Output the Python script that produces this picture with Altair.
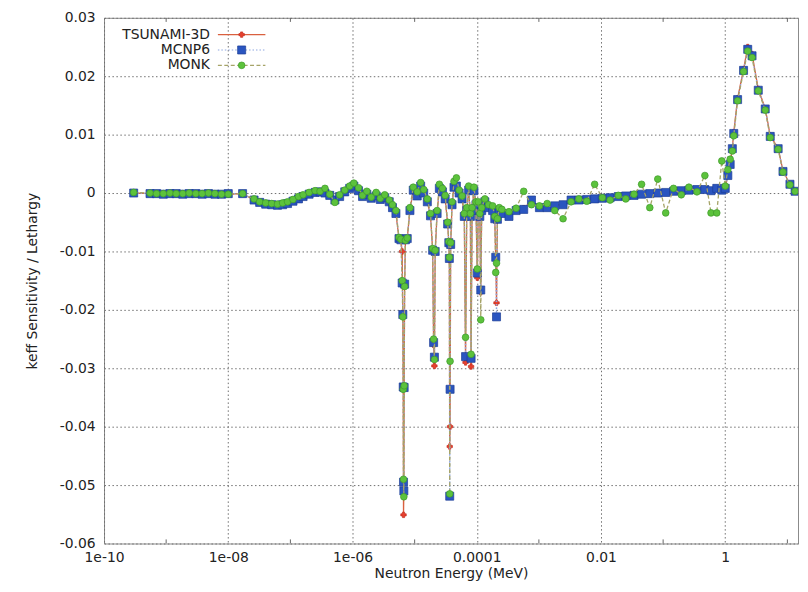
import altair as alt
import pandas as pd

SERIES = ["TSUNAMI-3D", "MCNP6", "MONK"]
MARK_COLORS = ["#e8402e", "#2a55c0", "#5cc23c"]
MARK_STROKES = ["#c42a1c", "#1d3f95", "#3f9a2a"]
LINE_COLORS = ["#d9603f", "#8ea6df", "#a6a468"]

# Neutron energy (MeV) of each group point
ENERGY = [
    3e-10, 5.5e-10, 7e-10, 9e-10, 1.15e-9, 1.45e-9, 1.85e-9, 2.35e-9, 3e-9, 3.8e-9, 4.8e-9, 6.1e-9, 7.8e-9, 1.0e-8,
    1.7e-8, 2.6e-8, 3.2e-8, 4e-8, 5e-8, 6.2e-8, 7.5e-8, 9e-8, 1.1e-7, 1.35e-7, 1.6e-7, 2e-7, 2.5e-7, 3e-7, 3.6e-7,
    4.3e-7, 5.2e-7, 6.2e-7, 7.5e-7, 9e-7, 1.05e-6, 1.25e-6, 1.45e-6, 1.7e-6, 2e-6, 2.4e-6, 2.8e-6, 3.3e-6, 3.9e-6,
    4.4e-6, 5e-6,
    5.6e-6, 6.0e-6, 6.3e-6, 6.45e-6, 6.55e-6, 6.62e-6, 6.7e-6, 6.78e-6, 6.9e-6, 7.1e-6, 7.6e-6, 8.4e-6,
    9.5e-6, 1.1e-5, 1.25e-5, 1.4e-5, 1.6e-5, 1.8e-5,
    1.95e-5, 2.02e-5, 2.08e-5, 2.14e-5, 2.3e-5,
    2.5e-5, 2.8e-5, 3.1e-5, 3.4e-5,
    3.55e-5, 3.62e-5, 3.67e-5, 3.72e-5, 3.8e-5, 4.0e-5,
    4.3e-5, 4.7e-5, 5.2e-5, 5.8e-5, 6.3e-5,
    6.6e-5, 6.9e-5, 7.4e-5, 7.9e-5, 8.1e-5, 8.4e-5, 9.0e-5, 9.7e-5,
    1.02e-4, 1.06e-4, 1.12e-4, 1.16e-4, 1.2e-4,
    1.35e-4, 1.55e-4, 1.8e-4, 1.95e-4,
    2.02e-4, 2.08e-4, 2.15e-4, 2.3e-4,
    2.54e-4, 3.3e-4, 4.3e-4, 5.7e-4, 7.6e-4, 1.02e-3, 1.36e-3, 1.8e-3, 2.45e-3, 3.3e-3, 4.4e-3, 5.9e-3, 7.9e-3,
    1.05e-2, 1.4e-2, 1.9e-2, 2.5e-2, 3.4e-2, 4.5e-2, 6.1e-2, 8.2e-2, 0.11, 0.147, 0.196, 0.26, 0.35, 0.47, 0.59,
    0.73, 0.88,
    1.0, 1.1, 1.2, 1.3, 1.37, 1.58, 1.97, 2.3, 2.7, 3.4, 4.4, 5.3, 7.1, 8.5, 11.0, 13.3,
]

TSUNAMI = [
    0.0, -0.0001, -0.0001, -0.0001, -0.0001, -0.0001, -0.0001, -0.0001, -0.0001, -0.0001, -0.0001, -0.0002, -0.0002, -0.0002,
    -0.0001, -0.0012, -0.0016, -0.0019, -0.0020, -0.0021, -0.0020, -0.0018, -0.0014, -0.0010, -0.0006, -0.0002, 0.0001, 0.0002, 0.0000,
    -0.0004, -0.0012, -0.0006, 0.0002, 0.0008, 0.0012, 0.0004, -0.0006, -0.0002, -0.0009, -0.0005, -0.0011, -0.0008, -0.0015,
    -0.0025, -0.0035,
    -0.0078, -0.0080, -0.0100, -0.0205, -0.0335, -0.0551, -0.0510, -0.0330, -0.0158, -0.0082, -0.0078, -0.0030,
    0.0005, -0.0005, 0.0012, 0.0000, -0.0015, -0.0039,
    -0.0098, -0.0260, -0.0296, -0.0102, -0.0035,
    0.0008, 0.0002, -0.0010, -0.0053,
    -0.0086, -0.0115, -0.0434, -0.0400, -0.0090, -0.0020,
    0.0010, 0.0012, 0.0000, -0.0010, -0.0040,
    -0.0290, -0.0030, 0.0005, -0.0040, -0.0297, -0.0030, 0.0004, -0.0020,
    -0.0145, -0.0020, -0.0040, -0.0170, -0.0030,
    -0.0015, -0.0025, -0.0030, -0.0044,
    -0.0112, -0.0188, -0.0045, -0.0030,
    -0.0033, -0.0038, -0.0029, -0.0026, -0.0014, -0.0024, -0.0024, -0.0021, -0.0019, -0.0012, -0.0012, -0.0011, -0.0010,
    -0.0009, -0.0008, -0.0006, -0.0005, -0.0004, -0.0002, -0.0001, 0.0000, 0.0001, 0.0003, 0.0004, 0.0005, 0.0006, 0.0006, 0.0004,
    0.0008, 0.0006,
    0.0008, 0.0031, 0.0050, 0.0077, 0.0104, 0.0162, 0.0212, 0.0250, 0.0238, 0.0178, 0.0145, 0.0098, 0.0077, 0.0038, 0.0015, 0.0003,
]

MCNP6 = [
    0.0, -0.0001, -0.0001, -0.0002, -0.0001, -0.0001, -0.0002, -0.0001, -0.0001, -0.0002, -0.0001, -0.0002, -0.0002, -0.0001,
    -0.0001, -0.0012, -0.0016, -0.0019, -0.0020, -0.0021, -0.0020, -0.0018, -0.0014, -0.0010, -0.0006, -0.0002, 0.0001, 0.0002, 0.0000,
    -0.0004, -0.0012, -0.0006, 0.0002, 0.0008, 0.0012, 0.0004, -0.0006, -0.0002, -0.0009, -0.0005, -0.0011, -0.0008, -0.0015,
    -0.0025, -0.0035,
    -0.0078, -0.0080, -0.0154, -0.0208, -0.0332, -0.0495, -0.0510, -0.0333, -0.0156, -0.0080, -0.0078, -0.0030,
    0.0005, -0.0005, 0.0012, 0.0000, -0.0015, -0.0039,
    -0.0098, -0.0256, -0.0281, -0.0100, -0.0035,
    0.0008, 0.0002, -0.0010, -0.0053,
    -0.0085, -0.0112, -0.0519, -0.0336, -0.0088, -0.0020,
    0.0010, 0.0012, 0.0000, -0.0010, -0.0040,
    -0.0280, -0.0030, 0.0005, -0.0040, -0.0283, -0.0030, 0.0004, -0.0020,
    -0.0137, -0.0020, -0.0040, -0.0166, -0.0030,
    -0.0015, -0.0025, -0.0030, -0.0044,
    -0.0110, -0.0212, -0.0045, -0.0030,
    -0.0035, -0.0040, -0.0030, -0.0028, -0.0012, -0.0025, -0.0025, -0.0022, -0.0020, -0.0012, -0.0012, -0.0011, -0.0010,
    -0.0009, -0.0008, -0.0006, -0.0005, -0.0004, -0.0002, -0.0001, 0.0000, 0.0001, 0.0003, 0.0004, 0.0005, 0.0006, 0.0006, 0.0004,
    0.0008, 0.0005,
    0.0008, 0.0030, 0.0049, 0.0076, 0.0102, 0.0160, 0.0210, 0.0246, 0.0235, 0.0176, 0.0144, 0.0097, 0.0076, 0.0037, 0.0015, 0.0003,
]

MONK = [
    0.0001, 0.0, -0.0001, -0.0001, 0.0, -0.0001, -0.0001, 0.0, -0.0001, -0.0001, 0.0, -0.0001, -0.0002, -0.0002,
    -0.0001, -0.0010, -0.0015, -0.0017, -0.0018, -0.0019, -0.0017, -0.0015, -0.0011, -0.0006, -0.0003, 0.0001, 0.0004, 0.0003, 0.0008,
    -0.0002, -0.0016, -0.0003, 0.0005, 0.0012, 0.0017, 0.0009, -0.0004, 0.0003, -0.0007, 0.0001, -0.0009, -0.0003, -0.0012,
    -0.0020, -0.0030,
    -0.0076, -0.0079, -0.0150, -0.0212, -0.0336, -0.0490, -0.0520, -0.0330, -0.0160, -0.0081, -0.0077, -0.0025,
    0.0010, 0.0002, 0.0018, 0.0006, -0.0010, -0.0035,
    -0.0095, -0.0250, -0.0285, -0.0098, -0.0030,
    0.0015, 0.0008, -0.0004, -0.0050,
    -0.0083, -0.0110, -0.0515, -0.0288, -0.0085, -0.0015,
    0.0020, 0.0026, 0.0005, -0.0005, -0.0035,
    -0.0247, -0.0025, 0.0012, -0.0035, -0.0276, -0.0025, 0.0010, -0.0015,
    -0.0130, -0.0015, -0.0035, -0.0217, -0.0025,
    -0.0010, -0.0020, -0.0022, -0.0040,
    -0.0136, -0.0120, -0.0044, -0.0025,
    -0.0028, -0.0032, -0.0026, 0.0003, -0.0020, -0.0022, -0.0018, -0.0030, -0.0044, -0.0015, -0.0010, -0.0014, 0.0015,
    -0.0008, -0.0012, -0.0004, -0.0010, -0.0002, 0.0015, -0.0025, 0.0024, -0.0034, 0.0008, -0.0003, 0.0010, 0.0002, 0.0030, -0.0034,
    -0.0034, 0.0055,
    0.0012, 0.0040, 0.0058, 0.0072, 0.0098, 0.0158, 0.0208, 0.0243, 0.0232, 0.0175, 0.0142, 0.0095, 0.0075, 0.0036, 0.0014, 0.0003,
]

assert len(ENERGY) == len(TSUNAMI) == len(MCNP6) == len(MONK), (len(ENERGY), len(TSUNAMI), len(MCNP6), len(MONK))

XTICKS = [1e-10, 1e-8, 1e-6, 1e-4, 1e-2, 1]
XTICK_LABELS = ["1e-10", "1e-08", "1e-06", "0.0001", "0.01", "1"]
MINOR_X = [1e-9, 1e-7, 1e-5, 1e-3, 1e-1, 10]
YTICKS = [-0.06, -0.05, -0.04, -0.03, -0.02, -0.01, 0, 0.01, 0.02, 0.03]

PLOT_W = 701
PLOT_H = 531
XMAX = 10 ** (-10 + PLOT_W / 62.75)

FONT = "DejaVu Sans"
TXT = "#222222"
GRID = "#6e6e6e"

x_expr = " : ".join(
    f"datum.value < {XTICKS[i] * 3:g} ? '{XTICK_LABELS[i]}'" for i in range(len(XTICKS) - 1)
) + f" : '{XTICK_LABELS[-1]}'"

xscale = alt.Scale(type="log", domain=[1e-10, XMAX], nice=False)
yscale = alt.Scale(domain=[-0.06, 0.03], nice=False, zero=False)

x_axis = alt.Axis(
    values=XTICKS, labelExpr=x_expr, title="Neutron Energy (MeV)",
    grid=True, gridColor=GRID, gridDash=[1.5, 2.5], gridWidth=1,
    ticks=False, tickSize=0, domain=False,
    labelFont=FONT, labelFontSize=14, labelColor=TXT, labelPadding=7,
    labelFlush=False, labelOverlap=False,
    titleFont=FONT, titleFontSize=14, titleFontWeight="normal", titleColor=TXT, titlePadding=2,
)
y_axis = alt.Axis(
    values=YTICKS,
    labelExpr="datum.value == 0 ? '0' : replace(format(datum.value, '.2f'), '\u2212', '-')",
    title="keff Sensitivity / Lethargy",
    grid=True, gridColor=GRID, gridDash=[1.5, 2.5], gridWidth=1,
    ticks=False, tickSize=0, domain=False,
    labelFont=FONT, labelFontSize=14, labelColor=TXT, labelPadding=9,
    labelFlush=False, labelOverlap=False,
    titleFont=FONT, titleFontSize=14, titleFontWeight="normal", titleColor=TXT, titlePadding=20,
)

x_enc = alt.X("E:Q", scale=xscale, axis=x_axis)
y_enc = alt.Y("v:Q", scale=yscale, axis=y_axis)

layers = []

# minor decade ticks on bottom and top frame
tick_df = pd.DataFrame({"E": MINOR_X * 2,
                        "v": [-0.06] * len(MINOR_X) + [0.03] * len(MINOR_X),
                        "v2": [-0.0593] * len(MINOR_X) + [0.0293] * len(MINOR_X)})
layers.append(alt.Chart(tick_df).mark_rule(color="#666666", strokeWidth=1, clip=True).encode(
    x=x_enc, y=y_enc, y2="v2:Q"))

values = [TSUNAMI, MCNP6, MONK]
dashes = [[1, 0], [1.5, 2], [4, 2.5]]
shapes = ["cross", "square", "circle"]
sizes = [30, 66, 46]
for i, name in enumerate(SERIES):
    df = pd.DataFrame({"E": ENERGY, "v": values[i]})
    layers.append(alt.Chart(df).mark_line(color=LINE_COLORS[i], strokeWidth=1.3, strokeDash=dashes[i],
                                          clip=True).encode(x=x_enc, y=y_enc))
    layers.append(alt.Chart(df).mark_point(shape=shapes[i], filled=True, size=sizes[i], fill=MARK_COLORS[i],
                                           stroke=MARK_STROKES[i], strokeWidth=0.7, opacity=1,
                                           clip=True).encode(x=x_enc, y=y_enc))

# legend (gnuplot style: label, then sample line with marker)
leg_y = [17, 32.5, 48]
for i, name in enumerate(SERIES):
    ldf = pd.DataFrame({"label": [name]})
    base = alt.Chart(ldf)
    layers.append(base.mark_text(align="right", baseline="middle", font=FONT, fontSize=14, color=TXT).encode(
        x=alt.value(107), y=alt.value(leg_y[i]), text="label:N"))
    layers.append(base.mark_rule(color=LINE_COLORS[i], strokeWidth=1.2, strokeDash=dashes[i]).encode(
        x=alt.value(115), x2=alt.value(163), y=alt.value(leg_y[i])))
    layers.append(base.mark_point(shape=shapes[i], filled=True, size=sizes[i], fill=MARK_COLORS[i],
                                  stroke=MARK_STROKES[i], strokeWidth=0.7, opacity=1).encode(
        x=alt.value(139), y=alt.value(leg_y[i])))

chart = alt.layer(*layers).properties(
    width=PLOT_W, height=PLOT_H,
    padding={"left": 97, "top": 7, "right": 2, "bottom": 38},
    autosize=alt.AutoSizeParams(type="none"),
    background="white",
).configure_view(stroke="#8a8a8a", strokeWidth=1)

chart.save("out.html", embed_options={"renderer": "svg", "actions": False})
